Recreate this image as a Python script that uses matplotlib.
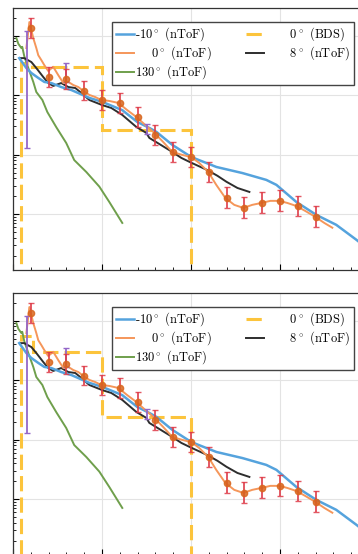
import matplotlib
matplotlib.use("Agg")
import matplotlib.pyplot as plt
from matplotlib.lines import Line2D

plt.rcParams["font.family"] = ["cmr10", "DejaVu Serif"]
plt.rcParams["mathtext.fontset"] = "cm"
plt.rcParams["axes.formatter.use_mathtext"] = True

# -10 deg (nToF)
e_m10 = [0.35, 0.75, 1.03, 1.42, 1.76, 2.15, 2.71, 3.28, 4.29, 5.02, 6.14, 6.98, 7.66,
         8.06, 8.95, 10.02, 11.43, 12.89, 14.23, 14.80, 15.92, 17.04, 18.16, 19.29, 20.0]
f_m10 = [0.42, 0.286, 0.236, 0.195, 0.167, 0.160, 0.137, 0.122, 0.090, 0.077, 0.056, 0.0355,
         0.0281, 0.0241, 0.0146, 0.0091, 0.0062, 0.0049, 0.00376, 0.0031, 0.0016, 0.00097,
         0.00066, 0.00037, 0.00025]

# 0 deg (nToF), fine binning
e_0 = [0.75, 0.92, 1.14, 1.31, 1.42, 1.59, 1.76, 1.98, 2.26, 2.54, 2.83, 3.11, 3.39, 3.67,
       3.95, 4.29, 4.62, 4.96, 5.41, 5.92, 6.42, 6.93, 7.43, 7.94, 8.44, 8.95, 9.51, 10.02,
       10.47, 10.97, 11.42, 11.93, 12.43, 12.94, 13.44, 13.95, 14.46, 14.96, 15.41, 15.92,
       16.42, 16.98, 17.49, 17.94]
f_0 = [0.62, 1.70, 0.91, 0.62, 0.47, 0.39, 0.32, 0.255, 0.30, 0.218, 0.160, 0.167, 0.148,
       0.137, 0.118, 0.101, 0.093, 0.083, 0.080, 0.074, 0.056, 0.043, 0.0316, 0.0232, 0.0163,
       0.0111, 0.0099, 0.0091, 0.0072, 0.0051, 0.0031, 0.00187, 0.00143, 0.00127, 0.00143,
       0.00154, 0.00167, 0.00167, 0.00154, 0.00137, 0.00113, 0.00090, 0.00071, 0.00059]

# 0 deg (nToF), 1 MeV points with errors
e_0pts = [1, 2, 3, 4, 5, 6, 7, 8, 9, 10, 11, 12, 13, 14, 15, 16, 17]
f_0pts = [1.35, 0.202, 0.187, 0.118, 0.083, 0.074, 0.043, 0.0214, 0.0111, 0.0091, 0.0051,
          0.00187, 0.00127, 0.00154, 0.00167, 0.00137, 0.00090]
err_fac = [1.47, 1.47, 1.45, 1.45, 1.45, 1.45, 1.45, 1.45, 1.45, 1.45, 1.45,
           1.5, 1.5, 1.5, 1.5, 1.5, 1.5]

# extra (purple) error bars
e_pur = [0.79, 3.0, 7.5]
f_pur = [0.62, 0.245, 0.028]
f_pur_lo = [0.013, 0.167, 0.022]
f_pur_hi = [1.2, 0.35, 0.033]

# 130 deg (nToF)
e_130 = [0.19, 0.30, 0.47, 0.52, 0.63, 0.86, 1.14, 1.31, 1.65, 1.93, 2.43, 2.99, 3.44, 4.12,
         4.85, 5.41, 6.14]
f_130 = [0.91, 0.73, 0.62, 0.65, 0.456, 0.286, 0.167, 0.113, 0.083, 0.052, 0.029, 0.0157,
         0.0081, 0.0051, 0.0029, 0.0016, 0.00071]

# 8 deg (nToF)
e_8 = [0.41, 0.63, 1.03, 1.31, 1.70, 1.98, 2.26, 2.71, 3.11, 3.50, 3.84, 4.29, 5.02, 5.52,
       6.14, 6.93, 7.49, 7.66, 8.22, 8.95, 9.46, 10.02, 10.92, 11.49, 11.99, 12.61, 13.28]
f_8 = [0.42, 0.42, 0.361, 0.286, 0.202, 0.160, 0.143, 0.160, 0.137, 0.132, 0.109, 0.083,
       0.068, 0.061, 0.0465, 0.0292, 0.0232, 0.0191, 0.0151, 0.0111, 0.0088, 0.0073, 0.0055,
       0.0044, 0.0035, 0.00275, 0.00236]

# 0 deg (BDS) histograms, one per panel
bds_edges_top = [0.45, 1.05, 5.0, 10.0]
bds_top = [0.35, 0.30, 0.026]
bds_edges_bot = [0.45, 1.1, 5.0, 10.0]
bds_bot = [0.55, 0.30, 0.024]

labels = [r"-10$^\circ$ (nToF)", r"    0$^\circ$ (nToF)", r"130$^\circ$ (nToF)",
          r"      0$^\circ$ (BDS)", r"      8$^\circ$ (nToF)"]

c_blue = "#55a3dd"
c_orange = "#f5965a"
c_green = "#6f9f4c"
c_black = "#2e2e2e"
c_yellow = "#fcc43c"


def panel(ax, edges, vals):
    ax.stairs(vals, edges, baseline=1e-6, color=c_yellow, lw=2.2,
              linestyle=(0, (5, 2)), zorder=2)
    ax.plot(e_130, f_130, color=c_green, lw=1.4, zorder=3)
    ax.plot(e_8, f_8, color=c_black, lw=1.4, zorder=4)
    ax.plot(e_m10, f_m10, color=c_blue, lw=1.8, zorder=4)
    ax.plot(e_0, f_0, color=c_orange, lw=1.4, zorder=5)
    lo = [v - v / k for v, k in zip(f_0pts, err_fac)]
    hi = [v * k - v for v, k in zip(f_0pts, err_fac)]
    ax.errorbar(e_0pts, f_0pts, yerr=[lo, hi], fmt="o", color="#d8661e", ms=4.5,
                ecolor="#de3b48", elinewidth=1.4, capsize=2, alpha=0.85, zorder=6)
    plo = [v - l for v, l in zip(f_pur, f_pur_lo)]
    phi = [h - v for v, h in zip(f_pur, f_pur_hi)]
    ax.errorbar(e_pur, f_pur, yerr=[plo, phi], fmt="none", ecolor="#9467c8",
                elinewidth=1.3, capsize=2, zorder=5)

    ax.set_yscale("log")
    ax.set_xlim(0, 20)
    ax.set_ylim(10 ** -3.94, 10 ** 0.466)
    ax.set_xticks(range(0, 21, 5))
    ax.set_xticks(range(0, 21), minor=True)
    ax.tick_params(which="both", direction="in", labelleft=False, labelbottom=False)
    ax.tick_params(which="major", length=4, width=0.8)
    ax.tick_params(which="minor", length=2, width=0.6)
    ax.grid(True, which="major", color="#e3e3e3", lw=0.8)
    ax.set_axisbelow(True)
    for s in ax.spines.values():
        s.set_color("#333333")
        s.set_linewidth(0.9)

    handles = [
        Line2D([], [], color=c_blue, lw=1.8),
        Line2D([], [], color=c_orange, lw=1.4),
        Line2D([], [], color=c_green, lw=1.4),
        Line2D([], [], color=c_yellow, lw=2.2, linestyle=(0, (5, 2))),
        Line2D([], [], color=c_black, lw=1.4),
    ]
    leg = ax.legend(handles, labels, ncol=2, loc="upper left",
                    bbox_to_anchor=(0.278, 0.947), borderaxespad=0, fontsize=9,
                    handlelength=1.45, handletextpad=0.1, columnspacing=2.7,
                    labelspacing=0.1, borderpad=0.3, fancybox=False, framealpha=1)
    leg.get_frame().set_edgecolor("#444444")
    leg.get_frame().set_linewidth(1.0)


fig = plt.figure(figsize=(3.58, 5.54), dpi=100)
ax1 = fig.add_axes([13 / 358, 284 / 554, 356 / 358, 262 / 554])
ax2 = fig.add_axes([13 / 358, -1 / 554, 356 / 358, 262 / 554])
panel(ax1, bds_edges_top, bds_top)
panel(ax2, bds_edges_bot, bds_bot)

fig.savefig("out.png", dpi=100)
